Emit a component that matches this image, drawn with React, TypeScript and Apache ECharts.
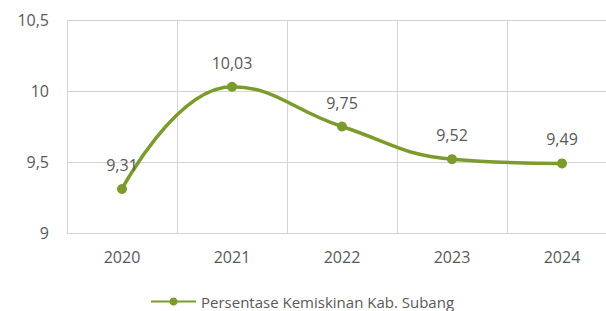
import React, { useEffect, useRef } from "react";
import * as echarts from "echarts";

const categories = ["2020", "2021", "2022", "2023", "2024"];
const values = [9.31, 10.03, 9.75, 9.52, 9.49];
const seriesName = "Persentase Kemiskinan Kab. Subang";
const yTicks = { min: 9, max: 10.5, interval: 0.5 };

const fmt = (v: number, d?: number) =>
  (d === undefined ? String(v) : v.toFixed(d)).replace(".", ",");

export default function App() {
  const ref = useRef<HTMLDivElement>(null);
  useEffect(() => {
    if (!ref.current) return;
    const chart = echarts.init(ref.current, null, { renderer: "svg" });
    const font = "'Open Sans', sans-serif";
    const textColor = "#595959";
    const lineColor = "#7b9b2c";
    chart.setOption({
      animation: false,
      backgroundColor: "#ffffff",
      textStyle: { fontFamily: font },
      grid: { left: 67, top: 20, width: 550, height: 213, containLabel: false },
      legend: {
        left: 145,
        top: 289,
        itemWidth: 45,
        itemHeight: 10,
        itemGap: 10,
        textStyle: { fontFamily: font, fontSize: 15, color: textColor },
        data: [{ name: seriesName }],
      },
      xAxis: {
        type: "category",
        data: categories,
        boundaryGap: true,
        axisLine: { show: true, lineStyle: { color: "#d4d4d4", width: 1 } },
        axisTick: { show: false },
        splitLine: { show: true, lineStyle: { color: "#d4d4d4", width: 1 } },
        axisLabel: { color: textColor, fontSize: 16, fontFamily: font, margin: 16 },
      },
      yAxis: {
        type: "value",
        min: yTicks.min,
        max: yTicks.max,
        interval: yTicks.interval,
        axisLine: { show: false },
        axisTick: { show: false },
        splitLine: { show: true, lineStyle: { color: "#d4d4d4", width: 1 } },
        axisLabel: {
          color: textColor,
          fontSize: 16,
          fontFamily: font,
          margin: 18,
          formatter: (v: number) => fmt(v),
        },
      },
      series: [
        {
          name: seriesName,
          type: "line",
          data: values,
          smooth: 0.45,
          symbol: "circle",
          symbolSize: 10,
          lineStyle: { color: lineColor, width: 3.5 },
          itemStyle: { color: lineColor },
          label: {
            show: true,
            position: "top",
            distance: 11,
            color: textColor,
            fontSize: 16,
            fontFamily: font,
            formatter: (p: any) => fmt(p.value, 2),
          },
        },
      ],
    });
    return () => chart.dispose();
  }, []);
  return (
    <div
      style={{
        position: "fixed",
        left: 0,
        top: 0,
        width: 606,
        height: 311,
        overflow: "hidden",
        background: "#ffffff",
      }}
    >
      <div ref={ref} style={{ width: 625, height: 311 }} />
    </div>
  );
}
